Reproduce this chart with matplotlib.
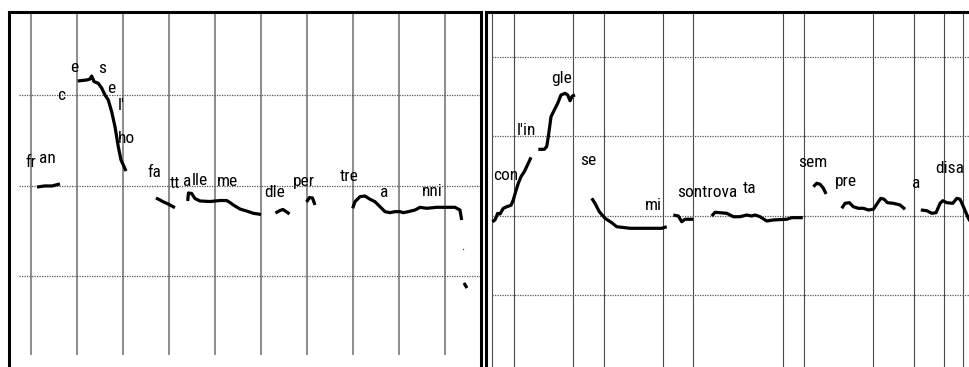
import matplotlib.pyplot as plt
from matplotlib import font_manager

# ---- left utterance: "francesel'ho fatta allemedle per trea nni"
left_bounds = [50, 150, 250, 350, 450, 550, 650, 750, 850, 950]
left_levels = [100, 200, 300]

left_segments = [
    ([63, 80, 96, 104, 113],
     [198.3, 199.5, 199.5, 200.6, 201.7]),
    ([151.5, 160.2, 171.1, 178.3, 182, 187, 196.3, 203.7, 210.9, 218, 225.4, 232.6, 239.8, 245.7, 250.7, 256.5],
     [315.5, 316, 316.6, 317.7, 321, 314.9, 312.9, 307.7, 300, 294.5, 281.6, 265, 242.9, 228.2, 222.7, 216]),
    ([321.7, 330.4, 337, 345, 352.2, 358.7, 363],
     [186.2, 184, 182.1, 180.3, 178.5, 176.6, 175.5]),
    ([390.7, 392.4, 399.3, 406.5, 417.4, 439.1, 460.9, 475.4, 482.6, 489.8, 504.3, 518.9, 533.3, 550],
     [182.9, 191.7, 191.2, 185.6, 182.9, 182.3, 183.4, 183.4, 181.2, 178.5, 174, 171.8, 169.3, 168]),
    ([581.5, 591.3, 597.8, 604.3, 612],
     [169.6, 172.4, 173.5, 171.3, 168.5]),
    ([649, 655.4, 662, 667.4],
     [181.8, 186.7, 186.2, 178.5]),
    ([749.3, 754.3, 765.2, 776.1, 787, 797.8, 808.7, 819.6, 830.4, 841.3, 852.2, 859.3, 870.2, 884.8,
      895.7, 910.2, 932, 953.7, 971.7, 982.6, 986.3],
     [174.8, 182.1, 187.6, 188.4, 184.8, 182.1, 176.6, 171.1, 170, 171.1, 171.1, 170, 171.1, 172.9,
      175.9, 174.8, 175.9, 175.9, 175.9, 172.9, 161.9]),
    ([991.3, 997.8], [92.3, 86.7]),
]
left_dots_x = [988.5]
left_dots_y = [129.8]

left_syllables = ['fr', 'an', 'c', 'e', 's', 'e', "l'", 'ho', 'fa', 'tt', 'a', 'lle', 'me',
                  'dle', 'per', 'tre', 'a', 'nni']
left_syl_x = [37, 67.4, 106.5, 134.8, 195.7, 215.2, 239.1, 239.1, 302.2, 352.2, 380.4, 400, 454.3,
              556.5, 619.6, 721.7, 808.7, 900]
left_syl_y = [220.4, 224.9, 294.5, 325.4, 324.3, 302.2, 283.4, 247, 209.4, 197.2, 199.5, 200.6, 199.5,
              187.3, 199.5, 205, 187.3, 188.4]

# ---- right utterance: "con l'ingle se mi sontrovata sempre a disa..."
right_bounds = [15.2, 63.7, 192, 258.7, 387, 452.8, 647.8, 692.4, 842.4, 932.6, 998.5, 1038.5]
right_levels = [100, 200, 300, 400]

right_segments = [
    ([15.9, 21.7, 27.6, 32.6, 39.8, 47.2, 56.5, 61.5, 66.7, 72.4, 78.3, 85.4, 90.6, 95.7, 100],
     [192.4, 194.6, 203, 202.1, 209.3, 211.3, 213.1, 219.8, 230.3, 240.9, 249.2, 255.5, 261.8, 268.1, 273.6]),
    ([115.9, 128.9, 134.1, 137.6, 143.5, 150.7, 158, 165.2, 173.9, 179.8, 184.8, 189.8, 195.7],
     [283.7, 283.7, 287, 299.6, 324.8, 333.3, 341.7, 352.2, 354.3, 352.2, 345, 350.9, 352.2]),
    ([232, 239.1, 248.5, 260.9, 275.4, 286.3, 315.2, 351.5, 384.1, 395],
     [221.9, 215.6, 205, 196.7, 191.2, 186.1, 184.1, 184.1, 184.1, 186.1]),
    ([409.3, 420.2, 427.6, 434.8, 452.8],
     [200.9, 199.6, 192.4, 195.5, 195.5]),
    ([492.8, 500, 525.4, 539.8, 554.3, 568.9, 579.8, 587, 597.8, 612.4, 626.7, 655.9, 666.7, 690.7],
     [199.6, 204.3, 203, 198.7, 198.7, 200.9, 199.6, 200.9, 198.7, 193.3, 194.6, 195.5, 197.5, 197.5]),
    ([713.7, 721.1, 728.3, 735.5, 741.3],
     [236.6, 240.9, 239.6, 234.6, 227.4]),
    ([775.4, 782.6, 792, 800.6, 811.5, 822.4, 833.3, 844.1, 852.8, 860.2, 867.4, 874.6, 887.6, 902.2, 913],
     [209.3, 215.6, 216.4, 211.3, 209.3, 209.3, 207.2, 208.1, 215.6, 221.9, 220.7, 216.4, 215.6, 213.5, 208.1]),
    ([947.2, 960.2, 971.1, 980.4, 989.1, 995, 1003.7, 1016.7, 1025.4, 1032.6, 1039.8, 1050.7, 1056.5],
     [207.2, 206.3, 203, 203.8, 215.6, 218.9, 216.4, 215.6, 221.9, 220.7, 211.3, 196.7, 190.8]),
]

right_syllables = ['con', "l'in", 'gle', 'se', 'mi', 'sontrova', 'ta', 'sem', 'pre', 'a', 'disa', 's']
right_syl_x = [17.4, 69.6, 143.5, 206.5, 347.8, 417.4, 560.9, 680.4, 760.9, 928.3, 978.3, 1049]
right_syl_y = [245, 301.8, 367.3, 263.9, 207.2, 223.6, 228.6, 261.4, 237.5, 234.9, 253.8, 214.8]


def pick_font():
    # the labels in the source are narrow, so prefer a condensed face if one exists
    fonts = font_manager.fontManager.ttflist
    for want in ['Liberation Sans Narrow', 'Arial Narrow', 'Roboto Condensed', 'Open Sans Condensed']:
        for f in fonts:
            if f.name == want and f.style == 'normal' and f.weight in (400, 'normal', 'regular'):
                return font_manager.FontProperties(fname=f.fname, size=12.5)
    for f in fonts:
        if (f.stretch in ('condensed', 'semi-condensed') and f.style == 'normal'
                and f.weight in (400, 'normal', 'regular') and 'Mono' not in f.name and 'Serif' not in f.name):
            return font_manager.FontProperties(fname=f.fname, size=12.5)
    return font_manager.FontProperties(family='Liberation Sans', size=11.5)


LABEL_FONT = pick_font()


def draw_panel(ax, bounds, vline_range, levels, hline_start, segments, syllables, sx, sy, vcolor, vwidth):
    ax.vlines(bounds, vline_range[0], vline_range[1], color=vcolor, linewidth=vwidth, zorder=1)
    ax.hlines(levels, hline_start, 2000, color='#555555', linewidth=0.9, linestyles=(0, (1, 1)), zorder=1)
    for xs, ys in segments:
        ax.plot(xs, ys, color='black', linewidth=2.3, solid_capstyle='butt', zorder=3)
    for s, x, y in zip(syllables, sx, sy):
        ax.text(x, y, s, fontproperties=LABEL_FONT, ha='left', va='baseline', zorder=4)
    ax.set_xticks([])
    ax.set_yticks([])
    ax.spines['bottom'].set_visible(False)
    for side in ['left', 'right', 'top']:
        ax.spines[side].set_linewidth(2.2)


fig = plt.figure(figsize=(9.7, 3.67), dpi=100)
W, H = 970, 367

ax1 = fig.add_axes([9.5 / W, -3 / H, (481 - 9.5) / W, (370 - 11.5) / H])
ax1.set_xlim(3.3, 1028.3)
ax1.set_ylim(-3.9, 392.3)
draw_panel(ax1, left_bounds, (12.7, 391.7), left_levels, 23.9, left_segments,
           left_syllables, left_syl_x, left_syl_y, '#8c8c8c', 1.4)
ax1.plot(left_dots_x, left_dots_y, 'o', color='#444444', markersize=1.0, markeredgewidth=0, zorder=3)

ax2 = fig.add_axes([486 / W, -3 / H, (975 - 486) / W, (370 - 11.5) / H])
ax2.set_xlim(2.2, 1065)
ax2.set_ylim(5.4, 457.5)
draw_panel(ax2, right_bounds, (5.4, 456.9), right_levels, 15.2, right_segments,
           right_syllables, right_syl_x, right_syl_y, '#4a4a4a', 0.8)
ax2.spines['right'].set_visible(False)

fig.savefig('out.png', dpi=100, facecolor='white')
